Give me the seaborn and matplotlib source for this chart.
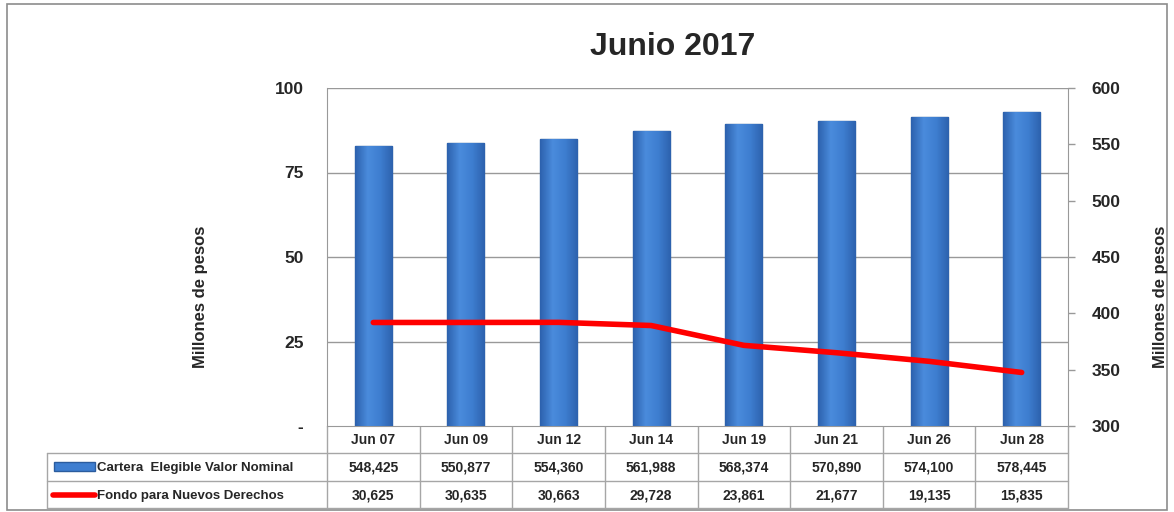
import numpy as np
import pandas as pd
import matplotlib
matplotlib.use("Agg")
import matplotlib.pyplot as plt
import seaborn as sns
from matplotlib.patches import Rectangle
from matplotlib.colors import LinearSegmentedColormap

# datos del reporte (miles de pesos)
fechas = ["Jun 07", "Jun 09", "Jun 12", "Jun 14", "Jun 19", "Jun 21", "Jun 26", "Jun 28"]
cartera = [548425, 550877, 554360, 561988, 568374, 570890, 574100, 578445]
fondo = [30625, 30635, 30663, 29728, 23861, 21677, 19135, 15835]
serie_cartera = "Cartera  Elegible Valor Nominal"
serie_fondo = "Fondo para Nuevos Derechos"
titulo = "Junio 2017"
ylabel = "Millones de pesos"
ticks_izq = [0, 25, 50, 75, 100]
ticks_der = [300, 350, 400, 450, 500, 550, 600]

df = pd.DataFrame({"fecha": fechas,
                   "cartera": np.array(cartera) / 1000,
                   "fondo": np.array(fondo) / 1000})

sns.set_style("white")
plt.rcParams["font.family"] = ["Liberation Sans", "DejaVu Sans"]

W, H = 1174, 512
fig = plt.figure(figsize=(W / 100, H / 100), dpi=100)
x0, x1, y0, y1 = 327, 1068, 88, 426
ax = fig.add_axes([x0 / W, 1 - y1 / H, (x1 - x0) / W, (y1 - y0) / H])

# barras en el eje derecho
sns.barplot(data=df, x="fecha", y="cartera", ax=ax, color="#3E7ED0", saturation=1,
            edgecolor="#2B5C9E", linewidth=1, width=0.4, zorder=3)
ax2 = ax.twinx()

ymin, ymax = ticks_der[0], ticks_der[-1]

# degradado tipo bisel en cada barra
cmap_bar = LinearSegmentedColormap.from_list("bar", ["#2D62AE", "#4A8BDC", "#3E7ED0", "#2D62AE"])
grad = np.linspace(0, 1, 64).reshape(1, -1)
for p in list(ax.patches):
    bx, bw = p.get_x(), p.get_width()
    top = p.get_y() + p.get_height()
    im = ax.imshow(grad, cmap=cmap_bar, aspect="auto", zorder=3.5,
                   extent=[bx, bx + bw, ymin, top])
    im.set_clip_path(p)

ax.set_ylim(ymin, ymax)
ax.set_xlim(-0.5, 7.5)
ax.set_yticks(ticks_der)
ax.set_yticklabels([str(t) for t in ticks_der], fontsize=12.5, fontweight="bold")
ax.tick_params(axis="y", which="both", left=False, labelleft=False, right=True,
               labelright=True, direction="out", length=5, width=1,
               color="#999999", pad=12)
ax.set_ylabel("")
ax.set_xlabel("")
ax.set_xticks([])
for v in ticks_izq[1:]:
    ax.axhline(ymin + v * 3, color="#999999", lw=1, zorder=1)
for s in ax.spines.values():
    s.set_color("#999999")
ax.spines["top"].set_visible(False)

# linea en el eje izquierdo
sns.lineplot(data=df, x="fecha", y="fondo", ax=ax2, color="#FF0000", lw=4, zorder=5)
ax2.set_ylim(0, 100)
ax2.tick_params(axis="y", left=True, labelleft=True, right=False, labelright=False,
                length=0, pad=17)
ax2.set_yticks(ticks_izq)
ax2.set_yticklabels(["-"] + [str(t) for t in ticks_izq[1:]], fontsize=12.5, fontweight="bold")
ax2.set_ylabel("")
ax2.set_xlabel("")
ax2.set_xticks([])
for s in ax2.spines.values():
    s.set_visible(False)

fig.text(673 / W, 1 - 47 / H, titulo, ha="center", va="center", fontsize=23, fontweight="bold")
fig.text(200 / W, 1 - 297 / H, ylabel, ha="center", va="center", rotation=90,
         fontsize=12, fontweight="bold")
fig.text(1160 / W, 1 - 297 / H, ylabel, ha="center", va="center", rotation=90,
         fontsize=12, fontweight="bold")

# tabla de datos
tab = fig.add_axes([0, 0, 1, 1], zorder=-1)
tab.set_xlim(0, W)
tab.set_ylim(H, 0)
tab.axis("off")
tab.add_patch(Rectangle((7, 4), 1160, 506, fill=False, ec="#8C8C8C", lw=1.2))
cw = (x1 - x0) / len(fechas)
gc = "#A6A6A6"
for i in range(len(fechas) + 1):
    tab.plot([x0 + i * cw] * 2, [426, 508], color=gc, lw=1)
tab.plot([47, 47], [453, 508], color=gc, lw=1)
tab.plot([47, x1], [453, 453], color=gc, lw=1)
tab.plot([47, x1], [481, 481], color=gc, lw=1)
tab.plot([47, x1], [508, 508], color=gc, lw=1)
for i, f in enumerate(fechas):
    cx = x0 + (i + 0.5) * cw
    tab.text(cx, 440, f, ha="center", va="center", fontsize=10, fontweight="bold")
    tab.text(cx, 467, f"{cartera[i]:,}", ha="center", va="center", fontsize=10, fontweight="bold")
    tab.text(cx, 495, f"{fondo[i]:,}", ha="center", va="center", fontsize=10, fontweight="bold")
tab.add_patch(Rectangle((54, 462), 41, 9, fc="#3E7ED0", ec="#2B5C9E", lw=1))
tab.plot([53, 95], [495, 495], color="#FF0000", lw=4, solid_capstyle="round")
tab.text(97, 468, serie_cartera, ha="left", va="center", fontsize=9.5, fontweight="bold")
tab.text(97, 496, serie_fondo, ha="left", va="center", fontsize=9.5, fontweight="bold")

fig.savefig("out.png", dpi=100)
